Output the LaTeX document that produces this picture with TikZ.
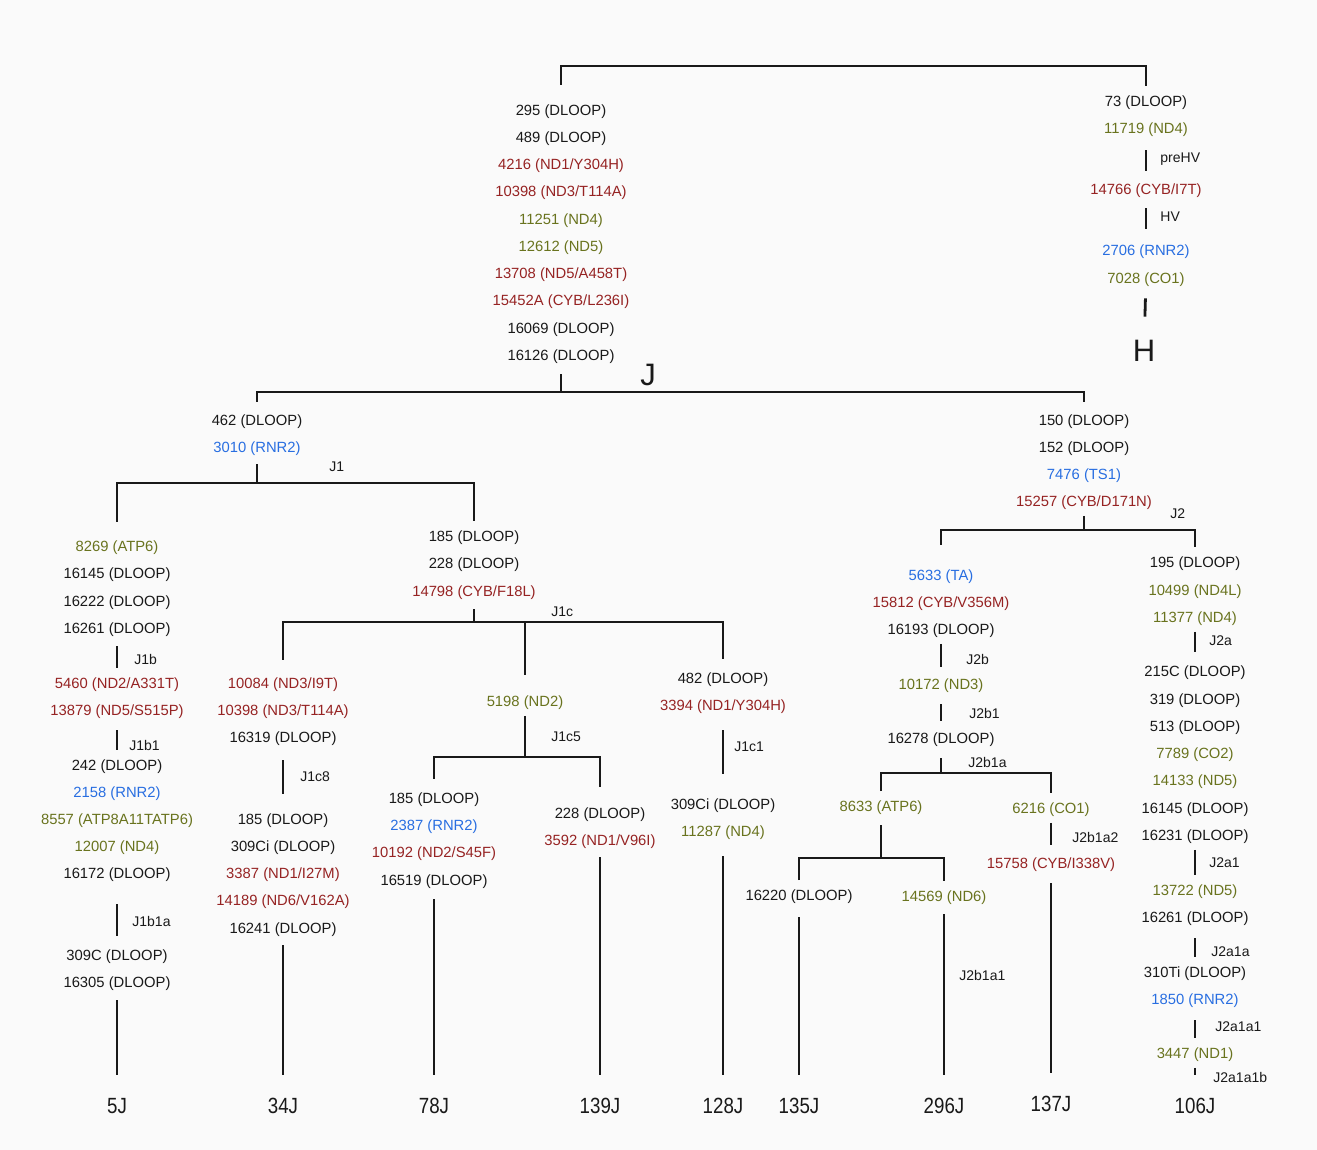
\documentclass[tikz,border=0pt]{standalone}
\usepackage{fontspec}
\setmainfont{Liberation Sans}
\usepackage{xcolor}
\usepackage{graphicx}
\usepackage{tikz}

\definecolor{bg}{RGB}{250,250,250}
\definecolor{ink}{RGB}{25,25,25}
\definecolor{mutred}{RGB}{150,35,35}
\definecolor{mutgreen}{RGB}{105,115,30}
\definecolor{mutblue}{RGB}{40,110,225}

\tikzset{mut/.style={font=\fontsize{14.8}{16}\selectfont,text=ink,text height=10.6pt,text depth=0pt,inner xsep=1pt,inner ysep=8.2pt}}
\tikzset{mutr/.style={mut,text=mutred}}
\tikzset{mutg/.style={mut,text=mutgreen}}
\tikzset{mutb/.style={mut,text=mutblue}}
\tikzset{clade/.style={font=\fontsize{14}{16}\selectfont,text=ink,anchor=west,text height=10pt,text depth=0pt,inner sep=0pt}}
\tikzset{tip/.style={font=\fontsize{22}{24}\selectfont,text=ink,text height=15.7pt,text depth=0pt,inner ysep=0pt,outer ysep=23pt}}
\tikzset{hap/.style={font=\fontsize{31}{32}\selectfont,text=ink,text height=22pt,text depth=0pt,inner ysep=0pt}}

\begin{document}
\begin{tikzpicture}[x=1pt,y=-1pt,line width=2.8pt,draw=ink]
    \fill[bg] (0,0) rectangle (1317,1150);
    \useasboundingbox (0,0) rectangle (1317,1150);

    % haplogroup J
    \node[mut] (j1) at (561,110) {295 (DLOOP)};
    \node[mut] (j2) at (561,137) {489 (DLOOP)};
    \node[mutr] (j3) at (561,164) {4216 (ND1/Y304H)};
    \node[mutr] (j4) at (561,191) {10398 (ND3/T114A)};
    \node[mutg] (j5) at (561,219) {11251 (ND4)};
    \node[mutg] (j6) at (561,246) {12612 (ND5)};
    \node[mutr] (j7) at (561,273) {13708 (ND5/A458T)};
    \node[mutr] (j8) at (561,300) {15452A (CYB/L236I)};
    \node[mut] (j9) at (561,328) {16069 (DLOOP)};
    \node[mut] (j10) at (561,355) {16126 (DLOOP)};
    \node[hap] (hJ) at (648,374) {J};

    % haplogroup H
    \node[mut] (h1) at (1146,101) {73 (DLOOP)};
    \node[mutg] (h2) at (1146,128) {11719 (ND4)};
    \node[mutr] (h3) at (1146,189) {14766 (CYB/I7T)};
    \node[mutb] (h4) at (1146,250) {2706 (RNR2)};
    \node[mutg] (h5) at (1146,278) {7028 (CO1)};
    \node[hap] (hH) at (1144,350) {H};
    \node[clade] (lpreHV) at (1159,158) {preHV};
    \node[clade] (lHV) at (1159,217) {HV};

    % J1
    \node[mut] (a1) at (257,420) {462 (DLOOP)};
    \node[mutb] (a2) at (257,447) {3010 (RNR2)};
    \node[clade] (lJ1) at (328,466) {J1};

    % J1b -> 5J
    \node[mutg] (b1) at (117,546) {8269 (ATP6)};
    \node[mut] (b2) at (117,573) {16145 (DLOOP)};
    \node[mut] (b3) at (117,601) {16222 (DLOOP)};
    \node[mut] (b4) at (117,628) {16261 (DLOOP)};
    \node[mutr] (b5) at (117,683) {5460 (ND2/A331T)};
    \node[mutr] (b6) at (117,710) {13879 (ND5/S515P)};
    \node[mut] (b7) at (117,765) {242 (DLOOP)};
    \node[mutb] (b8) at (117,792) {2158 (RNR2)};
    \node[mutg] (b9) at (117,819) {8557 (ATP8A11TATP6)};
    \node[mutg] (b10) at (117,846) {12007 (ND4)};
    \node[mut] (b11) at (117,873) {16172 (DLOOP)};
    \node[mut] (b12) at (117,955) {309C (DLOOP)};
    \node[mut] (b13) at (117,982) {16305 (DLOOP)};
    \node[clade] (lJ1b) at (133,659) {J1b};
    \node[clade] (lJ1b1) at (128,745) {J1b1};
    \node[clade] (lJ1b1a) at (131,921) {J1b1a};

    % J1c
    \node[mut] (c1) at (474,536) {185 (DLOOP)};
    \node[mut] (c2) at (474,563) {228 (DLOOP)};
    \node[mutr] (c3) at (474,591) {14798 (CYB/F18L)};
    \node[clade] (lJ1c) at (550,611) {J1c};

    % J1c8 -> 34J
    \node[mutr] (d1) at (283,683) {10084 (ND3/I9T)};
    \node[mutr] (d2) at (283,710) {10398 (ND3/T114A)};
    \node[mut] (d3) at (283,737) {16319 (DLOOP)};
    \node[mut] (d4) at (283,819) {185 (DLOOP)};
    \node[mut] (d5) at (283,846) {309Ci (DLOOP)};
    \node[mutr] (d6) at (283,873) {3387 (ND1/I27M)};
    \node[mutr] (d7) at (283,900) {14189 (ND6/V162A)};
    \node[mut] (d8) at (283,928) {16241 (DLOOP)};
    \node[clade] (lJ1c8) at (299,776) {J1c8};

    % J1c5 -> 78J, 139J
    \node[mutg] (e1) at (525,701) {5198 (ND2)};
    \node[clade] (lJ1c5) at (550,736) {J1c5};
    \node[mut] (f1) at (434,798) {185 (DLOOP)};
    \node[mutb] (f2) at (434,825) {2387 (RNR2)};
    \node[mutr] (f3) at (434,852) {10192 (ND2/S45F)};
    \node[mut] (f4) at (434,880) {16519 (DLOOP)};
    \node[mut] (g1) at (600,813) {228 (DLOOP)};
    \node[mutr] (g2) at (600,840) {3592 (ND1/V96I)};

    % J1c1 -> 128J
    \node[mut] (k1) at (723,678) {482 (DLOOP)};
    \node[mutr] (k2) at (723,705) {3394 (ND1/Y304H)};
    \node[mut] (k3) at (723,804) {309Ci (DLOOP)};
    \node[mutg] (k4) at (723,831) {11287 (ND4)};
    \node[clade] (lJ1c1) at (733,746) {J1c1};

    % J2
    \node[mut] (m1) at (1084,420) {150 (DLOOP)};
    \node[mut] (m2) at (1084,447) {152 (DLOOP)};
    \node[mutb] (m3) at (1084,474) {7476 (TS1)};
    \node[mutr] (m4) at (1084,501) {15257 (CYB/D171N)};
    \node[clade] (lJ2) at (1169,513) {J2};

    % J2b
    \node[mutb] (n1) at (941,575) {5633 (TA)};
    \node[mutr] (n2) at (941,602) {15812 (CYB/V356M)};
    \node[mut] (n3) at (941,629) {16193 (DLOOP)};
    \node[mutg] (n4) at (941,684) {10172 (ND3)};
    \node[mut] (n5) at (941,738) {16278 (DLOOP)};
    \node[clade] (lJ2b) at (965,659) {J2b};
    \node[clade] (lJ2b1) at (968,713) {J2b1};
    \node[clade] (lJ2b1a) at (967,762) {J2b1a};

    % J2b1a -> 135J, 296J, 137J
    \node[mutg] (p1) at (881,806) {8633 (ATP6)};
    \node[mut] (q1) at (799,895) {16220 (DLOOP)};
    \node[mutg] (s1) at (944,896) {14569 (ND6)};
    \node[clade] (lJ2b1a1) at (958,975) {J2b1a1};
    \node[mutg] (u1) at (1051,808) {6216 (CO1)};
    \node[mutr] (u2) at (1051,863) {15758 (CYB/I338V)};
    \node[clade] (lJ2b1a2) at (1071,837) {J2b1a2};

    % J2a -> 106J
    \node[mut] (w1) at (1195,562) {195 (DLOOP)};
    \node[mutg] (w2) at (1195,590) {10499 (ND4L)};
    \node[mutg] (w3) at (1195,617) {11377 (ND4)};
    \node[mut] (w4) at (1195,671) {215C (DLOOP)};
    \node[mut] (w5) at (1195,699) {319 (DLOOP)};
    \node[mut] (w6) at (1195,726) {513 (DLOOP)};
    \node[mutg] (w7) at (1195,753) {7789 (CO2)};
    \node[mutg] (w8) at (1195,780) {14133 (ND5)};
    \node[mut] (w9) at (1195,808) {16145 (DLOOP)};
    \node[mut] (w10) at (1195,835) {16231 (DLOOP)};
    \node[mutg] (w11) at (1195,890) {13722 (ND5)};
    \node[mut] (w12) at (1195,917) {16261 (DLOOP)};
    \node[mut] (w13) at (1195,972) {310Ti (DLOOP)};
    \node[mutb] (w14) at (1195,999) {1850 (RNR2)};
    \node[mutg] (w15) at (1195,1053) {3447 (ND1)};
    \node[clade] (lJ2a) at (1208,640) {J2a};
    \node[clade] (lJ2a1) at (1208,862) {J2a1};
    \node[clade] (lJ2a1a) at (1210,951) {J2a1a};
    \node[clade] (lJ2a1a1) at (1214,1026) {J2a1a1};
    \node[clade] (lJ2a1a1b) at (1212,1077) {J2a1a1b};

    % samples
    \node[tip] (t5) at (117,1106) {\scalebox{0.85}[1]{5J}};
    \node[tip] (t34) at (283,1106) {\scalebox{0.85}[1]{34J}};
    \node[tip] (t78) at (434,1106) {\scalebox{0.85}[1]{78J}};
    \node[tip] (t139) at (600,1106) {\scalebox{0.85}[1]{139J}};
    \node[tip] (t128) at (723,1106) {\scalebox{0.85}[1]{128J}};
    \node[tip] (t135) at (799,1106) {\scalebox{0.85}[1]{135J}};
    \node[tip] (t296) at (944,1106) {\scalebox{0.85}[1]{296J}};
    \node[tip] (t137) at (1051,1104) {\scalebox{0.85}[1]{137J}};
    \node[tip] (t106) at (1195,1106) {\scalebox{0.85}[1]{106J}};

    % branch points
    \coordinate (top) at (561,66);
    \coordinate (J) at (561,392);
    \coordinate (J1) at (257,483);
    \coordinate (J1c) at (474,622);
    \coordinate (J1c5) at (525,757);
    \coordinate (J2) at (1084,530);
    \coordinate (J2b1a) at (941,773);
    \coordinate (J2b1ax) at (881,858);

    % tree
    \draw [shorten <=10.5pt] (j1) |- (top) -| (h1);
    \draw [shorten <=7.5pt,shorten >=3.5pt] (h2) to (h3);
    \draw [shorten <=4.5pt,shorten >=6.5pt] (h3) to (h4);
    \draw [shorten <=5.5pt,shorten >=21pt] (h5) to (hH);

    \draw [shorten <=4.5pt] (j10) to (J);
    \draw [shorten <=3.5pt,shorten >=3.5pt] (a1) |- (J) -| (m1);

    \draw [shorten <=2.5pt] (a2) to (J1);
    \draw [shorten <=9.5pt] (b1) |- (J1) -| (c1);
    \draw [shorten <=3.5pt] (b4) to (b5);
    \draw [shorten <=5.5pt] (b6) to (b7);
    \draw [shorten <=16.5pt,shorten >=4.5pt] (b11) to (b12);
    \draw [shorten <=3.5pt] (b13) to (t5);

    \draw [shorten <=3.5pt] (c3) to (J1c);
    \draw [shorten <=8.5pt,shorten >=4.5pt] (d1) |- (J1c) -| (k1);
    \draw [shorten >=11.5pt] (e1 |- J1c) to (e1);
    \draw [shorten <=8.5pt,shorten >=10.5pt] (d3) to (d4);
    \draw [shorten <=2.5pt] (d8) to (t34);

    \draw [] (e1) to (J1c5);
    \draw [shorten <=4.5pt,shorten >=11.5pt] (f1) |- (J1c5) -| (g1);
    \draw [shorten <=4.5pt] (f4) to (t78);
    \draw [shorten <=2.5pt] (g2) to (t139);

    \draw [shorten <=10.5pt,shorten >=15.5pt] (k2) to (k3);
    \draw [shorten <=10.5pt] (k4) to (t128);

    \draw [] (m4) to (J2);
    \draw [shorten <=15.5pt] (n1) |- (J2) -| (w1);
    \draw [shorten >=2.5pt] (n3) to (n4);
    \draw [shorten <=5.5pt,shorten >=2.5pt] (n4) to (n5);
    \draw [shorten <=5.5pt] (n5) to (J2b1a);
    \draw [] (p1) |- (J2b1a) -| (u1);
    \draw [shorten <=4.5pt] (p1) to (J2b1ax);
    \draw [] (q1) |- (J2b1ax) -| (s1);
    \draw [shorten <=7.5pt] (q1) to (t135);
    \draw [shorten <=3.5pt] (s1) to (t296);
    \draw [shorten >=3.5pt] (u1) to (u2);
    \draw [shorten <=5.5pt] (u2) to (t137);

    \draw [shorten >=4.5pt] (w3) to (w4);
    \draw [] (w10) to (w11);
    \draw [shorten <=6.5pt] (w12) to (w13);
    \draw [shorten <=6.5pt] (w14) to (w15);
    \draw [] (w15) to (t106);
\end{tikzpicture}
\end{document}
